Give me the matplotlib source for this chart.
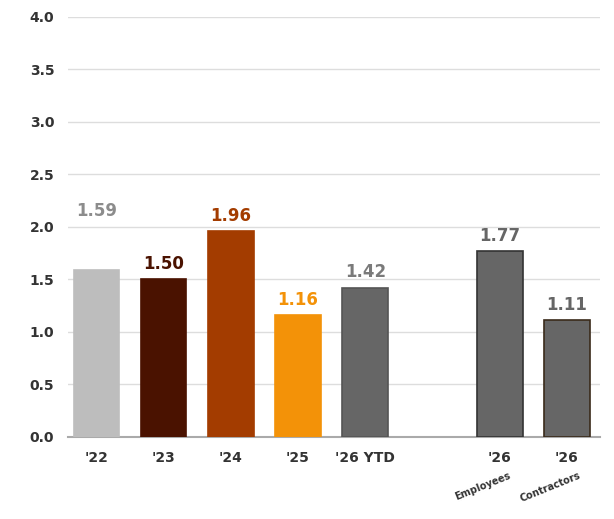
import matplotlib.pyplot as plt

labels = ["'22", "'23", "'24", "'25", "'26 YTD", "'26", "'26"]
sublabels = ["", "", "", "", "", "Employees", "Contractors"]
values = [1.59, 1.50, 1.96, 1.16, 1.42, 1.77, 1.11]
positions = [0, 1, 2, 3, 4, 6, 7]
colors = ["#bdbdbd", "#4a1200", "#a33c00", "#f39208", "#666666", "#666666", "#666666"]
text_colors = ["#8c8c8c", "#4a1200", "#a33c00", "#f39208", "#7a7a7a", "#666666", "#666666"]
edges = ["#bdbdbd", "#4a1200", "#a33c00", "#f39208", "#555555", "#333333", "#3a2a1a"]
label_y = [2.06, None, None, None, None, None, None]

fig = plt.figure(figsize=(6.14, 5.19), dpi=100)
ax = fig.add_axes([0.111, 0.158, 0.866, 0.81])
ax.bar(positions, values, width=0.68, color=colors, edgecolor=edges, linewidth=1.2, zorder=3)
for p, v, c, ly in zip(positions, values, text_colors, label_y):
    y = ly if ly is not None else v + 0.06
    ax.text(p, y, f"{v:.2f}", ha="center", va="bottom", color=c, fontsize=12, fontweight="bold")

ax.set_ylim(0, 4)
ax.set_xlim(-0.42, 7.49)
ax.set_yticks([i * 0.5 for i in range(9)])
ax.set_yticklabels([f"{i * 0.5:.1f}" for i in range(9)], fontsize=10, fontweight="bold", color="#333333")
ax.set_xticks(positions)
ax.set_xticklabels(labels, fontsize=10, fontweight="bold", color="#333333")
ax.tick_params(length=0, pad=10)
ax.grid(axis="y", color="#dddddd", linewidth=1, zorder=0)
for s in ["top", "right", "left"]:
    ax.spines[s].set_visible(False)
ax.spines["bottom"].set_color("#aaaaaa")
ax.spines["bottom"].set_linewidth(1.5)
for p, s in zip(positions, sublabels):
    if s:
        ax.text(p - 0.25, -0.32, s, rotation=22, ha="center", va="top", fontsize=7,
                fontweight="bold", color="#333333")
fig.savefig("out.png")
